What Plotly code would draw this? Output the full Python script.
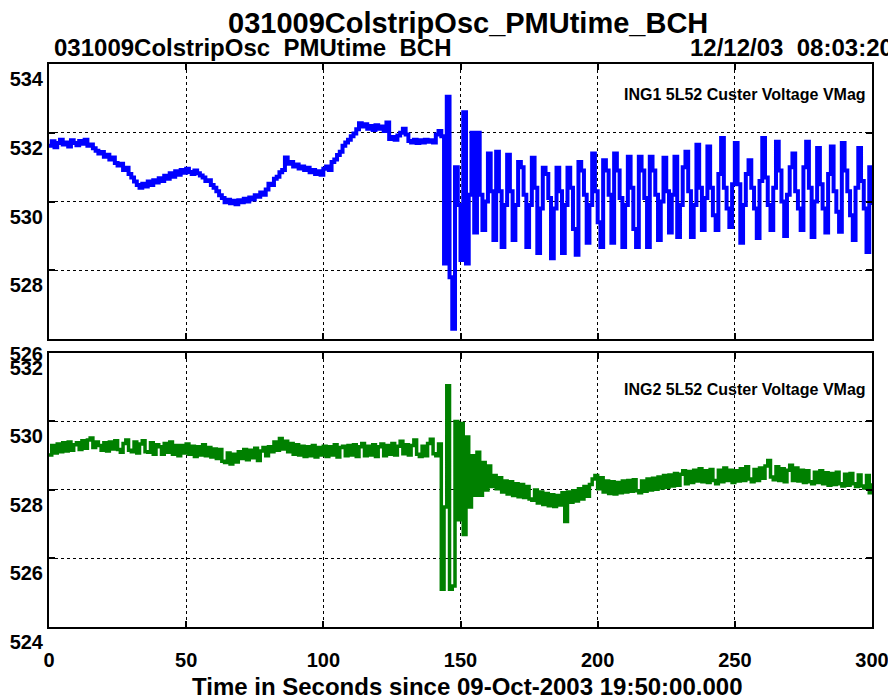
import plotly.graph_objects as go

# ---------------- data ----------------
time_s = list(range(0, 301))

ing1_pre = [
    531.62, 531.75, 531.58, 531.70, 531.80, 531.66, 531.72, 531.60, 531.78, 531.70,
    531.64, 531.76, 531.68, 531.80, 531.62, 531.66, 531.55, 531.48, 531.40, 531.44,
    531.30, 531.36, 531.22, 531.28, 531.12, 531.05, 531.10, 530.92, 530.98, 530.80,
    530.70, 530.58, 530.48, 530.40, 530.52, 530.44, 530.58, 530.48, 530.62, 530.55,
    530.68, 530.60, 530.75, 530.66, 530.82, 530.72, 530.88, 530.78, 530.92, 530.84,
    530.95, 530.86, 530.80, 530.90, 530.82, 530.76, 530.70, 530.60, 530.62, 530.48,
    530.40, 530.30, 530.18, 530.10, 529.98, 530.05, 529.95, 530.02, 529.92, 530.04,
    529.98, 530.08, 530.00, 530.12, 530.06, 530.18, 530.14, 530.26, 530.20, 530.35,
    530.52, 530.48, 530.66, 530.72, 530.85, 530.92, 531.28, 531.10, 531.15, 531.02,
    531.08, 530.96, 531.02, 530.92, 530.98, 530.85, 530.92, 530.80, 530.88, 530.78,
    530.95, 531.02, 530.92, 531.15, 531.22, 531.35, 531.45, 531.62, 531.72, 531.80,
    531.90, 531.98, 532.10, 532.28, 532.18, 532.25, 532.12, 532.20, 532.08, 532.22,
    532.12, 532.18, 532.05, 532.30, 531.82, 531.88, 531.80, 531.92, 532.00, 532.12,
    531.95, 531.76, 531.72, 531.80, 531.70, 531.78, 531.72, 531.80, 531.74, 531.78,
    531.72, 531.95, 532.05,
]
ing1_post = [
    531.90, 528.20, 533.05, 527.80, 526.30, 531.00, 529.90, 528.30, 532.60, 528.20,
    530.20, 532.00, 529.10, 532.00, 530.20, 529.17, 530.00, 531.40, 530.30, 528.88,
    531.45, 530.30, 528.68, 529.90, 531.36, 530.30, 528.88, 529.90, 531.15, 531.00,
    530.20, 528.68, 529.90, 531.27, 530.40, 528.50, 529.80, 530.98, 530.80, 530.10,
    528.35, 529.80, 530.98, 530.30, 528.50, 529.90, 530.98, 530.40, 529.20, 528.45,
    531.15, 530.90, 530.20, 528.80, 529.90, 531.40, 530.30, 529.40, 528.68, 531.20,
    530.90, 530.20, 528.80, 531.40, 530.90, 530.10, 528.68, 529.90, 531.30, 530.40,
    529.20, 528.68, 531.30, 530.90, 530.10, 528.68, 531.30, 530.90, 530.20, 528.88,
    530.00, 531.27, 530.30, 529.10, 530.20, 531.30, 528.97, 529.90, 531.00, 531.45,
    530.30, 528.97, 529.90, 531.65, 530.40, 529.17, 530.10, 531.60, 530.40, 529.60,
    529.17, 530.80, 531.85, 530.40, 529.80, 529.26, 530.50, 531.70, 530.50, 528.80,
    529.90, 530.80, 531.20, 530.40, 529.80, 528.94, 530.60, 531.85, 530.70, 529.90,
    529.17, 530.40, 531.74, 530.90, 530.00, 529.00, 530.20, 531.00, 531.40, 530.30,
    529.80, 529.17, 531.00, 531.74, 530.40, 528.97, 530.00, 531.56, 530.50, 529.80,
    529.10, 530.80, 531.60, 530.30, 529.70, 529.12, 531.70, 530.90, 530.30, 529.60,
    528.88, 530.40, 531.56, 530.60, 529.80, 528.53, 531.00, 529.90,
]

ing2_pre = [
    529.02, 529.30, 529.08, 529.34, 529.12, 529.38, 529.14, 529.40, 529.16, 529.32,
    529.38, 529.18, 529.44, 529.22, 529.46, 529.52, 529.24, 529.40, 529.30, 529.16,
    529.38, 529.14, 529.40, 529.20, 529.44, 529.18, 529.10, 529.36, 529.46, 529.16,
    529.12, 529.40, 529.08, 529.34, 529.44, 529.12, 529.10, 529.38, 529.04, 529.32,
    529.26, 529.04, 529.36, 529.10, 529.40, 529.04, 529.30, 529.00, 529.30, 529.08,
    529.34, 529.04, 529.28, 528.98, 529.26, 529.02, 529.32, 529.00, 529.24, 528.96,
    529.20, 528.92, 529.18, 528.84, 528.80, 529.08, 528.76, 529.04, 528.82, 529.12,
    528.92, 529.18, 528.88, 529.16, 528.94, 529.22, 528.86, 529.14, 529.24, 529.00,
    529.26, 529.12, 529.40, 529.16, 529.50, 529.20, 529.42, 529.12, 529.36, 529.04,
    529.32, 529.02, 529.28, 528.98, 529.26, 529.00, 529.30, 528.96, 529.24, 529.02,
    529.28, 528.98, 529.26, 529.02, 529.32, 528.96, 529.24, 529.28, 529.00, 529.30,
    529.02, 529.32, 528.98, 529.26, 529.36, 529.00, 529.28, 529.02, 529.32, 528.98,
    529.26, 529.34, 529.00, 529.30, 529.04, 529.36, 529.02, 529.28, 529.42, 529.06,
    529.32, 529.02, 529.30, 529.46, 529.04, 528.98, 529.28, 529.00, 529.36, 529.48,
    529.06, 529.00, 529.34,
]
ing2_post = [
    525.10, 527.50, 531.04, 525.10, 525.20, 530.00, 527.13, 529.94, 526.70, 529.55,
    527.50, 529.00, 527.85, 529.10, 527.85, 528.80,
    528.00, 528.70, 528.10, 528.42, 528.04, 528.36, 527.94, 528.26, 527.88, 528.24,
    527.84, 528.18, 527.80, 528.16, 527.78, 528.10, 527.74, 527.70, 528.00, 527.62,
    527.94, 527.58, 527.90, 527.54, 527.86, 527.52, 527.84, 527.56, 527.92, 527.08,
    527.94, 527.64, 527.98, 527.68, 528.04, 527.74, 528.10, 527.82, 528.16, 528.32,
    528.42, 528.04, 528.36, 527.94, 528.26, 527.90, 528.24, 527.88, 528.22, 527.92,
    528.26, 527.94, 528.28, 527.96, 528.30, 527.98, 527.92, 528.26, 527.96, 528.32,
    528.00, 528.34, 528.02, 528.38, 528.06, 528.42, 528.08, 528.44, 528.12, 528.48,
    528.14, 528.46, 528.56, 528.18, 528.54, 528.22, 528.58, 528.26, 528.62, 528.24,
    528.56, 528.22, 528.60, 528.28, 528.18, 528.58, 528.24, 528.64, 528.28, 528.58,
    528.22, 528.56, 528.26, 528.62, 528.28, 528.68, 528.32, 528.24, 528.60, 528.28,
    528.64, 528.34, 528.70, 528.86, 528.38, 528.30, 528.68, 528.28, 528.62, 528.24,
    528.58, 528.72, 528.28, 528.64, 528.26, 528.58, 528.22, 528.56, 528.24, 528.18,
    528.52, 528.22, 528.56, 528.18, 528.50, 528.14, 528.48, 528.16, 528.52, 528.18,
    528.12, 528.46, 528.14, 528.48, 528.18, 528.10, 528.44, 528.12, 528.06, 528.42,
    527.92, 528.20,
]

ing1 = ing1_pre + ing1_post
ing2 = ing2_pre + ing2_post

x_ticks = [0, 50, 100, 150, 200, 250, 300]
y1_ticks = [526, 528, 530, 532, 534]
y2_ticks = [524, 526, 528, 530, 532]

main_title = "031009ColstripOsc_PMUtime_BCH"
sub_left = "031009ColstripOsc  PMUtime  BCH"
sub_right = "12/12/03  08:03:20"
x_title = "Time in Seconds since 09-Oct-2003 19:50:00.000"
label1 = "ING1 5L52 Custer Voltage VMag"
label2 = "ING2 5L52 Custer Voltage VMag"

# ---------------- figure ----------------
FONT = "Liberation Sans"
fig = go.Figure()
fig.add_trace(go.Scatter(x=time_s, y=ing1, mode="lines",
                         line=dict(color="#0000ff", width=4, shape="hv"),
                         xaxis="x", yaxis="y", showlegend=False))
fig.add_trace(go.Scatter(x=time_s, y=ing2, mode="lines",
                         line=dict(color="#008000", width=3.5, shape="hv"),
                         xaxis="x2", yaxis="y2", showlegend=False))

axis_common = dict(
    showline=True, linecolor="black", linewidth=2, mirror="ticks",
    ticks="inside", ticklen=6, tickwidth=2, tickcolor="black",
    showgrid=True, gridcolor="black", gridwidth=1, griddash="dot",
    zeroline=False, automargin=False,
    tickfont=dict(family=FONT, size=20, color="black", weight="bold"),
)

# the page body has an 8px default margin, so the figure is sized to fit
fig.update_layout(
    width=888, height=692,
    margin=dict(l=41, r=24, t=56, b=73),
    paper_bgcolor="white", plot_bgcolor="white",
    xaxis=dict(axis_common, domain=[0, 1], anchor="y", range=[0, 300],
               tickvals=x_ticks, showticklabels=False),
    yaxis=dict(axis_common, domain=[0.5115, 1], anchor="x", range=[526, 534],
               tickvals=y1_ticks, ticklabelshift=15),
    xaxis2=dict(axis_common, domain=[0, 1], anchor="y2", range=[0, 300],
                tickvals=x_ticks, ticklabelstandoff=14),
    yaxis2=dict(axis_common, domain=[0, 0.4867], anchor="x2", range=[524, 532],
                tickvals=y2_ticks, ticklabelshift=15),
    annotations=[
        dict(text=main_title, xref="paper", yref="paper", x=0.509, y=1.073,
             xanchor="center", yanchor="middle", showarrow=False,
             font=dict(family=FONT, size=29, color="black", weight="bold")),
        dict(text=sub_left, xref="paper", yref="paper", x=0.004, y=1.030,
             xanchor="left", yanchor="middle", showarrow=False,
             font=dict(family=FONT, size=24, color="black", weight="bold")),
        dict(text=sub_right, xref="paper", yref="paper", x=1.028, y=1.030,
             xanchor="right", yanchor="middle", showarrow=False,
             font=dict(family=FONT, size=24, color="black", weight="bold")),
        dict(text=x_title, xref="paper", yref="paper", x=0.509, y=-0.105,
             xanchor="center", yanchor="middle", showarrow=False,
             font=dict(family=FONT, size=24, color="black", weight="bold")),
        dict(text=label1, xref="paper", yref="paper", x=0.995, y=0.945,
             xanchor="right", yanchor="middle", showarrow=False,
             font=dict(family=FONT, size=16, color="black", weight="bold")),
        dict(text=label2, xref="paper", yref="paper", x=0.995, y=0.421,
             xanchor="right", yanchor="middle", showarrow=False,
             font=dict(family=FONT, size=16, color="black", weight="bold")),
    ],
)

fig.write_html("out.html")
